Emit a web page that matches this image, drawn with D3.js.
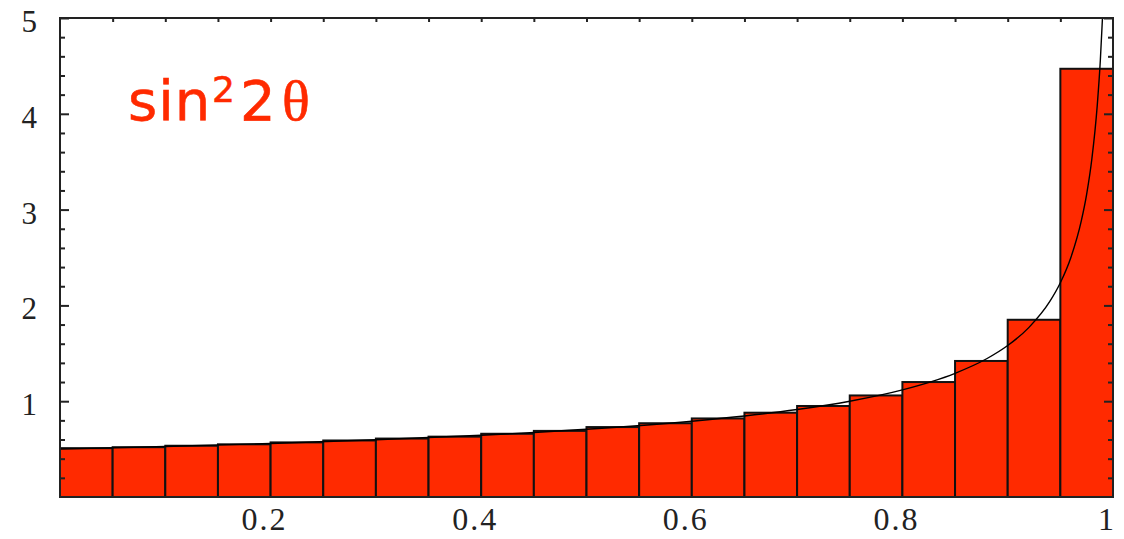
<!DOCTYPE html>
<html>
<head>
<meta charset="utf-8">
<script src="https://cdn.jsdelivr.net/npm/d3@7"></script>
<style>
  html, body { margin: 0; padding: 0; background: #fff; }
  svg { display: block; }
</style>
</head>
<body>
<script>
// histogram bins (width 0.05) and heights
var binStarts = [0, 0.05, 0.1, 0.15, 0.2, 0.25, 0.3, 0.35, 0.4, 0.45, 0.5, 0.55, 0.6, 0.65, 0.7, 0.75, 0.8, 0.85, 0.9, 0.95];
var binHeights = [0.51, 0.52, 0.535, 0.55, 0.57, 0.59, 0.61, 0.63, 0.66, 0.69, 0.73, 0.77, 0.82, 0.88, 0.95, 1.06, 1.2, 1.42, 1.85, 4.47];
var binWidth = 0.05;

// thin curve over the bars
var curveX = [0, 0.1, 0.2, 0.3, 0.4, 0.5, 0.6, 0.65, 0.7, 0.75, 0.8, 0.85, 0.88, 0.9, 0.92, 0.94, 0.95, 0.96, 0.97, 0.975, 0.98, 0.985, 0.988, 0.99, 0.992];
var curveY = [0.5, 0.527, 0.559, 0.598, 0.645, 0.707, 0.791, 0.845, 0.913, 1.0, 1.118, 1.291, 1.443, 1.581, 1.768, 2.041, 2.236, 2.5, 2.887, 3.162, 3.536, 4.082, 4.564, 5.0, 5.59];

var xLabels = [0.2, 0.4, 0.6, 0.8, 1];
var yLabels = [1, 2, 3, 4, 5];
var yMinor = d3.range(1, 25).map(d => d / 5);
var xMinor = d3.range(1, 20).map(d => d / 20);

var W = 1124, H = 539;
var mL = 60, mR = 1113, mT = 18, mB = 497;

var svg = d3.select('body').append('svg').attr('width', W).attr('height', H);

var x = d3.scaleLinear().domain([0, 1]).range([mL, mR]);
var y = d3.scaleLinear().domain([0, 5]).range([mB, mT]);

svg.append('clipPath').attr('id', 'plot')
  .append('rect').attr('x', mL).attr('y', mT).attr('width', mR - mL).attr('height', mB - mT);

// bars
svg.append('g').selectAll('rect')
  .data(binStarts)
  .enter()
  .append('rect')
    .attr('x', d => x(d))
    .attr('y', (d, i) => y(binHeights[i]))
    .attr('width', d => x(d + binWidth) - x(d))
    .attr('height', (d, i) => y(0) - y(binHeights[i]))
    .attr('fill', '#ff2a00')
    .attr('stroke', '#111')
    .attr('stroke-width', 2);

// curve
var line = d3.line()
  .x((d, i) => x(d))
  .y((d, i) => y(curveY[i]))
  .curve(d3.curveMonotoneX);

svg.append('path')
  .attr('clip-path', 'url(#plot)')
  .attr('fill', 'none')
  .attr('stroke', '#000')
  .attr('stroke-width', 1.4)
  .attr('d', line(curveX));

// frame
svg.append('rect')
  .attr('x', mL).attr('y', mT).attr('width', mR - mL).attr('height', mB - mT)
  .attr('fill', 'none').attr('stroke', '#222').attr('stroke-width', 2);

// inward ticks
function ticks(axis, pos, vals, size) {
  var g = svg.append('g').attr('transform', pos)
    .call(axis.tickValues(vals).tickSize(-size).tickFormat(''));
  g.select('.domain').remove();
  g.selectAll('line').attr('stroke', '#222').attr('stroke-width', 2);
}
ticks(d3.axisLeft(y), 'translate(' + mL + ',0)', yMinor.filter(d => d % 1 !== 0), 5);
ticks(d3.axisLeft(y), 'translate(' + mL + ',0)', yLabels, 9);
ticks(d3.axisRight(y), 'translate(' + mR + ',0)', yMinor.filter(d => d % 1 !== 0), 5);
ticks(d3.axisRight(y), 'translate(' + mR + ',0)', yLabels, 9);
ticks(d3.axisTop(x), 'translate(0,' + mT + ')', xMinor, 4);

// tick labels
svg.append('g').selectAll('text')
  .data(yLabels)
  .enter()
  .append('text')
    .attr('x', 37)
    .attr('y', d => y(d) + 14)
    .attr('text-anchor', 'end')
    .attr('font-family', 'Liberation Serif, serif')
    .attr('font-size', 31)
    .attr('fill', '#222')
    .text(d => d);

svg.append('g').selectAll('text')
  .data(xLabels)
  .enter()
  .append('text')
    .attr('x', d => x(d) - 6)
    .attr('y', 530)
    .attr('text-anchor', 'middle')
    .attr('font-family', 'Liberation Serif, serif')
    .attr('font-size', 32)
    .attr('letter-spacing', 2)
    .attr('fill', '#222')
    .text(d => d);

// label
var lab = svg.append('text')
  .attr('y', 120)
  .attr('fill', '#ff2a00')
  .attr('stroke', '#ff2a00')
  .attr('stroke-width', 0.6)
  .attr('font-family', 'DejaVu Sans, sans-serif')
  .attr('font-size', 56);
lab.append('tspan').attr('x', 128).attr('letter-spacing', 1).text('sin');
lab.append('tspan').attr('x', 212).attr('y', 102).attr('font-size', 36).text('2');
lab.append('tspan').attr('x', 240).attr('y', 120).text('2');
lab.append('tspan').attr('x', 282).attr('font-family', 'Liberation Serif, serif').attr('font-size', 58).text('θ');
</script>
</body>
</html>
